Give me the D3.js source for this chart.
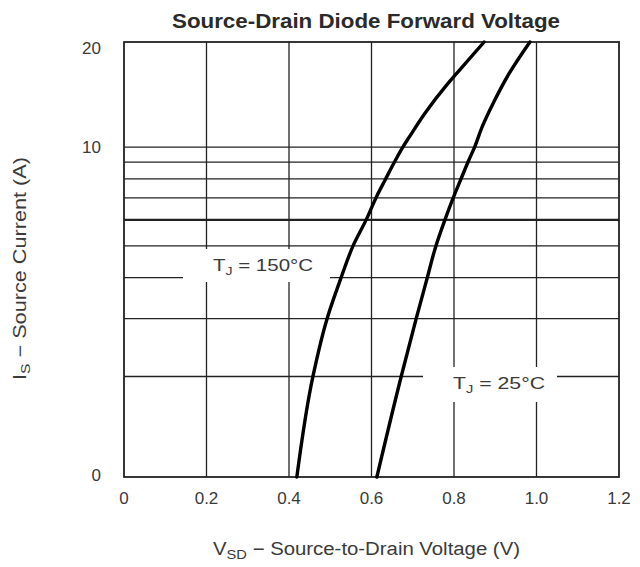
<!DOCTYPE html>
<html><head><meta charset="utf-8">
<script src="https://cdn.jsdelivr.net/npm/d3@7"></script>
<style>body{margin:0;background:#fff}text{font-family:"Liberation Sans",Arial,sans-serif}</style>
</head><body><svg id="c" width="640" height="567"></svg>
<script>
const xTicks = [0, 0.2, 0.4, 0.6, 0.8, 1.0, 1.2];
const xTickLabels = ["0", "0.2", "0.4", "0.6", "0.8", "1.0", "1.2"];
const yTicks = [1, 10, 20];
const yTickLabels = ["0", "10", "20"];
const yGrid = [2, 3, 4, 5, 6, 7, 8, 9, 10];

// TJ = 150 °C
const vHot = [0.419, 0.458, 0.492, 0.526, 0.555, 0.587, 0.613, 0.633, 0.657, 0.676, 0.691, 0.730, 0.783, 0.807, 0.873];
const iHot = [0.988, 2.0, 2.99, 3.99, 4.99, 6.0, 7.1, 7.94, 9.07, 10.0, 10.7, 12.7, 15.5, 16.8, 20.9];
// TJ = 25 °C
const vCold = [0.613, 0.672, 0.708, 0.735, 0.756, 0.778, 0.800, 0.816, 0.835, 0.850, 0.868, 0.895, 0.933, 0.984];
const iCold = [0.988, 2.0, 2.99, 3.99, 4.99, 6.0, 7.1, 7.94, 9.07, 10.0, 11.5, 13.6, 16.7, 20.9];

const svg = d3.select("#c");
const L = 124, R = 619, T = 42, B = 477;
const x = d3.scaleLinear().domain([0, 1.2]).range([L, R]);
const y = d3.scaleLog().domain([0.988, 20.9]).range([B, T]);
const ink = "#222";
const txt = "#3a3a3a";

// gridlines
svg.append("g").selectAll("line").data(yGrid).join("line")
  .attr("x1", L).attr("x2", R)
  .attr("y1", d => y(d)).attr("y2", d => y(d))
  .attr("stroke", ink).attr("stroke-width", d => d === 6 ? 2.4 : 1.3);
svg.append("g").selectAll("line").data(xTicks.slice(1, -1)).join("line")
  .attr("x1", d => x(d)).attr("x2", d => x(d))
  .attr("y1", T).attr("y2", B)
  .attr("stroke", ink).attr("stroke-width", 1.3);

// label masks
function mask(x0, y0, x1, y1) {
  svg.append("rect").attr("x", x0).attr("y", y0).attr("width", x1 - x0).attr("height", y1 - y0).attr("fill", "#fff");
}
mask(183, 249, 330, 282);
mask(423, 367, 557, 402);

// frame
svg.append("rect").attr("x", L).attr("y", T).attr("width", R - L).attr("height", B - T)
  .attr("fill", "none").attr("stroke", ink).attr("stroke-width", 1.8);

// curves
const line = d3.line().x(d => x(d[0])).y(d => y(d[1])).curve(d3.curveMonotoneY);
svg.append("path").datum(vHot.map((v, i) => [v, iHot[i]])).attr("d", line)
  .attr("fill", "none").attr("stroke", "#000").attr("stroke-width", 3.4).attr("stroke-linecap", "round");
svg.append("path").datum(vCold.map((v, i) => [v, iCold[i]])).attr("d", line)
  .attr("fill", "none").attr("stroke", "#000").attr("stroke-width", 3.4).attr("stroke-linecap", "round");

// x tick labels
svg.append("g").selectAll("text").data(xTicks).join("text")
  .attr("x", d => x(d)).attr("y", 504).attr("text-anchor", "middle")
  .attr("font-size", 17).attr("fill", txt).text((d, i) => xTickLabels[i]);
// y tick labels
svg.append("g").selectAll("text").data(yTicks).join("text")
  .attr("x", 101).attr("y", d => Math.max(Math.min(y(d), 476), 45) + 6).attr("text-anchor", "end")
  .attr("font-size", 17).attr("fill", txt).text((d, i) => yTickLabels[i]);

// title
svg.append("text").attr("x", 366).attr("y", 28).attr("text-anchor", "middle")
  .attr("font-size", 21).attr("font-weight", "bold").attr("fill", "#2a2a2a")
  .attr("textLength", 388).attr("lengthAdjust", "spacingAndGlyphs")
  .text("Source-Drain Diode Forward Voltage");

// x axis title
const xt = svg.append("text").attr("x", 213).attr("y", 555)
  .attr("font-size", 18).attr("fill", txt)
  .attr("textLength", 307).attr("lengthAdjust", "spacingAndGlyphs");
xt.append("tspan").text("V");
xt.append("tspan").attr("font-size", 13).attr("dy", 4).text("SD");
xt.append("tspan").attr("dy", -4).text(" \u2212 Source-to-Drain Voltage (V)");

// y axis title
const yt = svg.append("text").attr("transform", "translate(26,380) rotate(-90)")
  .attr("font-size", 18).attr("fill", txt)
  .attr("textLength", 223).attr("lengthAdjust", "spacingAndGlyphs");
yt.append("tspan").text("I");
yt.append("tspan").attr("font-size", 13).attr("dy", 4).text("S");
yt.append("tspan").attr("dy", -4).text(" \u2212 Source Current (A)");

// annotations
function tj(xp, yp, temp, w) {
  const t = svg.append("text").attr("x", xp).attr("y", yp).attr("font-size", 16).attr("fill", txt)
    .attr("textLength", w).attr("lengthAdjust", "spacingAndGlyphs");
  t.append("tspan").text("T");
  t.append("tspan").attr("font-size", 11).attr("dy", 4).text("J");
  t.append("tspan").attr("dy", -4).text(" = " + temp + "\u00B0C");
}
tj(213, 271, "150", 100);
tj(453, 389, "25", 92);
</script></body></html>
